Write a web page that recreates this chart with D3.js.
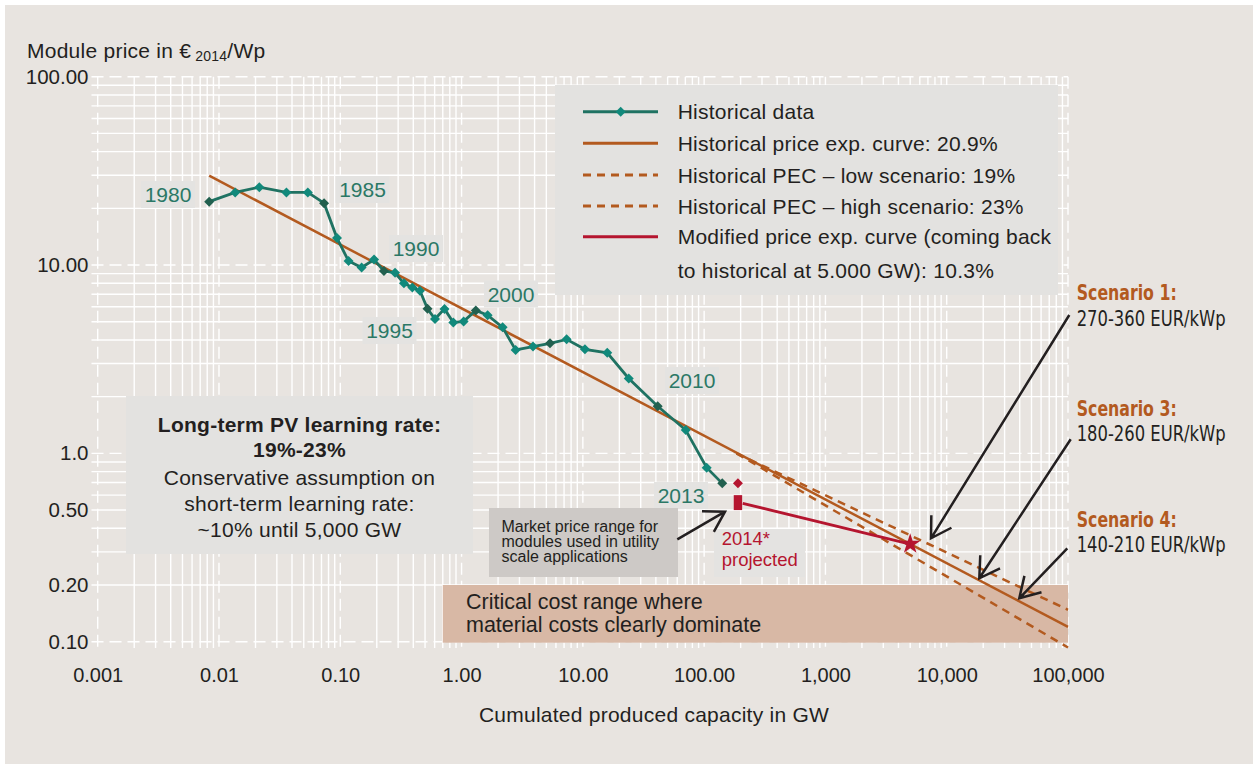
<!DOCTYPE html>
<html>
<head>
<meta charset="utf-8">
<script src="https://cdn.jsdelivr.net/npm/d3@7"></script>
<style>
  body { margin: 0; background: #fff; }
  svg text { font-family: "Liberation Sans", Arial, Helvetica, sans-serif; }
  .narrow { font-family: "Liberation Sans Narrow", "DejaVu Sans Condensed", "Liberation Sans", sans-serif !important; }
  .wide { letter-spacing: 0.25px; }
</style>
</head>
<body>
<div id="chart"></div>
<script>
// --- data ------------------------------------------------------------
const years = [1980, 1981, 1982, 1983, 1984, 1985, 1986, 1987, 1988, 1989,
               1990, 1991, 1992, 1993, 1994, 1995, 1996, 1997, 1998, 1999,
               2000, 2001, 2002, 2003, 2004, 2005, 2006, 2007, 2008, 2009,
               2010, 2011, 2012, 2013];
const capacityGW = [0.0083, 0.0136, 0.0215, 0.036, 0.054, 0.0735, 0.094, 0.117, 0.150, 0.190,
                    0.229, 0.283, 0.335, 0.393, 0.454, 0.524, 0.604, 0.723, 0.855, 1.04,
                    1.31, 1.64, 2.18, 2.79, 3.88, 5.36, 7.35, 10.4, 15.9, 23.9,
                    41.4, 70.5, 105, 141];
const priceEUR = [21.7, 24.3, 25.9, 24.3, 24.3, 21.3, 13.9, 10.5, 9.7, 10.7,
                  9.3, 9.1, 8.0, 7.6, 7.3, 5.86, 5.17, 5.85, 4.95, 5.02,
                  5.74, 5.42, 4.67, 3.54, 3.69, 3.84, 4.03, 3.57, 3.42, 2.50,
                  1.78, 1.33, 0.84, 0.693];
const markedYears = [1980, 1985, 1990, 1995, 2000, 2005, 2010, 2013];

// experience curves, end points [GW, EUR/Wp]
const historicalCurve = [[0.0083, 29.8], [100000, 0.1198]];
const lowScenario = [[185, 1.0], [100000, 0.1477]];
const highScenario = [[185, 1.0], [100000, 0.0932]];
const modifiedCurve = [[208, 0.543], [5000, 0.330]];

const point2014 = [190, 0.693];
const range2014 = [190, 0.50, 0.60];
const star5000 = [5000, 0.330];
const criticalRange = [0.7, 100000, 0.1, 0.2];

const xTicks = [0.001, 0.01, 0.1, 1, 10, 100, 1000, 10000, 100000];
const xTickLabels = ["0.001", "0.01", "0.10", "1.00", "10.00", "100.00", "1,000", "10,000", "100,000"];
const yTicks = [100, 10, 1, 0.5, 0.2, 0.1];
const yTickLabels = ["100.00", "10.00", "1.0", "0.50", "0.20", "0.10"];

const legendLabels = ["Historical data", "Historical price exp. curve: 20.9%",
  "Historical PEC \u2013 low scenario: 19%", "Historical PEC \u2013 high scenario: 23%",
  "Modified price exp. curve (coming back", "to historical at 5.000 GW): 10.3%"];
const yearLabels = ["1980", "1985", "1990", "1995", "2000", "2010", "2013"];
const scenarioTitles = ["Scenario 1:", "Scenario 3:", "Scenario 4:"];
const scenarioRanges = ["270-360 EUR/kWp", "180-260 EUR/kWp", "140-210 EUR/kWp"];

// --- setup -------------------------------------------------------------
const width = 1253, height = 764;
const teal = "#1f7262", tealLight = "#11897b", tealDark = "#22604f", tealText = "#2b7866";
const brown = "#b35a1f", red = "#b5152f", ink = "#231f20";

const svg = d3.select("#chart").append("svg")
  .attr("width", width).attr("height", height);

svg.append("rect").attr("x", 5).attr("y", 5).attr("width", width - 5).attr("height", height - 5)
  .attr("fill", "#e8e4e0");

const x = d3.scaleLog().domain([0.001, 100000]).range([97.7, 1068]);
const y = d3.scaleLog().domain([0.1, 100]).range([641.7, 76.7]);

// grid
const grid = svg.append("g");
const isMajor = v => Math.abs(Math.log10(v) - Math.round(Math.log10(v))) < 1e-6;
grid.selectAll(".vg").data(x.ticks()).join("line")
  .attr("x1", d => x(d)).attr("x2", d => x(d))
  .attr("y1", 76.7).attr("y2", 648)
  .attr("stroke", "#fff").attr("stroke-width", 1.4)
  .attr("stroke-dasharray", d => isMajor(d) ? "12,6" : null);
grid.selectAll(".hg").data(y.ticks()).join("line")
  .attr("y1", d => y(d)).attr("y2", d => y(d))
  .attr("x1", 91.5).attr("x2", 1068)
  .attr("stroke", "#fff").attr("stroke-width", 1.4)
  .attr("stroke-dasharray", d => isMajor(d) ? "12,6" : null);

// axes labels
const xAxis = svg.append("g").attr("transform", "translate(0,648)")
  .call(d3.axisBottom(x).tickValues(xTicks).tickSize(0).tickPadding(20)
    .tickFormat((d, i) => xTickLabels[i]));
xAxis.select(".domain").remove();
xAxis.selectAll("text").attr("font-size", 20).attr("fill", ink).attr("font-family", null);

const yAxis = svg.append("g").attr("transform", "translate(88.5,0)")
  .call(d3.axisLeft(y).tickValues(yTicks).tickSize(0).tickPadding(0)
    .tickFormat((d, i) => yTickLabels[i]));
yAxis.select(".domain").remove();
yAxis.selectAll("text").attr("font-size", 20.5).attr("fill", ink).attr("font-family", null);

svg.append("text").attr("class", "wide").attr("x", 654).attr("y", 722).attr("text-anchor", "middle")
  .attr("font-size", 21).attr("fill", ink).text("Cumulated produced capacity in GW");

const yTitle = svg.append("text").attr("class", "wide").attr("x", 27).attr("y", 58).attr("font-size", 21).attr("fill", ink);
yTitle.append("tspan").text("Module price in \u20ac");
yTitle.append("tspan").attr("dx", 4).attr("dy", 3).attr("font-size", 14).text("2014");
yTitle.append("tspan").attr("dy", -3).text("/Wp");

// critical cost range
svg.append("rect")
  .attr("x", x(criticalRange[0])).attr("width", x(criticalRange[1]) - x(criticalRange[0]))
  .attr("y", y(criticalRange[3])).attr("height", y(criticalRange[2]) - y(criticalRange[3]) + 1)
  .attr("fill", "#d8b8a5");
const crit = svg.append("text").attr("font-size", 21.5).attr("fill", ink);
crit.append("tspan").attr("x", 466).attr("y", 609).text("Critical cost range where");
crit.append("tspan").attr("x", 466).attr("y", 632).text("material costs clearly dominate");

// long-term box
svg.append("rect").attr("x", 126).attr("y", 396).attr("width", 347).attr("height", 158).attr("fill", "#e3e2e0");
const ltLines = [["Long-term PV learning rate:", 432, "bold"], ["19%-23%", 457, "bold"],
  ["Conservative assumption on", 485, "normal"], ["short-term learning rate:", 511, "normal"],
  ["~10% until 5,000 GW", 537, "normal"]];
const lt = svg.append("text").attr("class", "wide").attr("text-anchor", "middle")
  .attr("font-size", 21).attr("fill", ink);
lt.selectAll("tspan").data(ltLines).join("tspan")
  .attr("x", 299.5).attr("y", d => d[1]).attr("font-weight", d => d[2]).text(d => d[0]);

// legend
const lg = svg.append("g");
lg.append("rect").attr("x", 555).attr("y", 85).attr("width", 503).attr("height", 210).attr("fill", "#e3e2e0");
const rows = [111.7, 143.3, 175, 206, 236.7, 270];
const legStyles = [
  { c: teal, dash: null }, { c: brown, dash: null }, { c: brown, dash: "8,6" },
  { c: brown, dash: "8,6" }, { c: red, dash: null }];
legStyles.forEach((s, i) => {
  lg.append("line").attr("x1", 583).attr("x2", 658).attr("y1", rows[i]).attr("y2", rows[i])
    .attr("stroke", s.c).attr("stroke-width", 3).attr("stroke-dasharray", s.dash);
});
lg.append("path").attr("d", d3.symbol(d3.symbolSquare, 50)())
  .attr("transform", `translate(620.7,${rows[0]}) rotate(45)`).attr("fill", tealLight);
lg.selectAll(".lt").data(legendLabels).join("text")
  .attr("class", "wide")
  .attr("x", 677.7).attr("y", (d, i) => rows[i] + 7.5).attr("font-size", 21).attr("fill", ink).text(d => d);

// curves
const line = d3.line().x(d => x(d[0])).y(d => y(d[1]));
svg.append("path").datum(lowScenario).attr("d", line).attr("fill", "none")
  .attr("stroke", brown).attr("stroke-width", 2.5).attr("stroke-dasharray", "8,6");
svg.append("path").datum(highScenario).attr("d", line).attr("fill", "none")
  .attr("stroke", brown).attr("stroke-width", 2.5).attr("stroke-dasharray", "8,6");
svg.append("path").datum(historicalCurve).attr("d", line).attr("fill", "none")
  .attr("stroke", brown).attr("stroke-width", 2.5);

// historical data
const hist = years.map((yr, i) => ({ yr, cap: capacityGW[i], price: priceEUR[i] }));
svg.append("path").datum(hist).attr("fill", "none").attr("stroke", teal).attr("stroke-width", 2.8)
  .attr("d", d3.line().x(d => x(d.cap)).y(d => y(d.price)));
svg.selectAll(".pt").data(hist).join("path")
  .attr("d", d3.symbol(d3.symbolSquare, 50)())
  .attr("transform", d => `translate(${x(d.cap)},${y(d.price)}) rotate(45)`)
  .attr("fill", d => markedYears.includes(d.yr) ? tealDark : tealLight);

// 2014 and modified curve
svg.append("path").datum(modifiedCurve).attr("d", line).attr("fill", "none")
  .attr("stroke", red).attr("stroke-width", 2.8);
svg.append("rect").attr("x", x(range2014[0]) - 4.2).attr("width", 8.4)
  .attr("y", y(range2014[2])).attr("height", y(range2014[1]) - y(range2014[2])).attr("fill", red);
svg.append("path").attr("d", d3.symbol(d3.symbolSquare, 50)())
  .attr("transform", `translate(${x(point2014[0])},${y(point2014[1])}) rotate(45)`).attr("fill", red);
svg.append("path").attr("d", d3.symbol(d3.symbolStar, 130)())
  .attr("transform", `translate(${x(star5000[0])},${y(star5000[1])})`).attr("fill", red);

// year labels
const yearPos = [[168, 194.5], [362.5, 189.5], [416, 248.5], [389.5, 330.5], [511, 294], [692, 380.5], [681, 495.5]];
yearLabels.forEach((t, i) => {
  const [cx, cy] = yearPos[i];
  svg.append("rect").attr("x", cx - 27).attr("y", cy - 13.5).attr("width", 54).attr("height", 27).attr("fill", "#e4e3e1");
  svg.append("text").attr("x", cx).attr("y", cy + 7.5).attr("text-anchor", "middle")
    .attr("font-size", 21).attr("fill", tealText).text(t);
});

// 2014 projected label
svg.append("rect").attr("x", 714).attr("y", 529).attr("width", 91).attr("height", 48).attr("fill", "#e4e3e1");
svg.append("text").attr("x", 721.7).attr("y", 545).attr("font-size", 18.5).attr("fill", red).text("2014*");
svg.append("text").attr("x", 721.7).attr("y", 566).attr("font-size", 18.5).attr("fill", red).text("projected");

// market price box
svg.append("rect").attr("x", 489).attr("y", 508).attr("width", 189).attr("height", 69).attr("fill", "#cdc9c6");
const mk = svg.append("text").attr("font-size", 16).attr("fill", ink);
["Market price range for", "modules used in utility", "scale applications"].forEach((t, i) => {
  mk.append("tspan").attr("x", 501.5).attr("y", 531.5 + i * 15).text(t);
});

// arrows
function arrow(x1, y1, x2, y2) {
  const a = Math.atan2(y1 - y2, x1 - x2), L = 23, w = 0.54;
  const p = d3.path();
  p.moveTo(x1, y1); p.lineTo(x2, y2);
  p.moveTo(x2 + L * Math.cos(a + w), y2 + L * Math.sin(a + w));
  p.lineTo(x2, y2);
  p.lineTo(x2 + L * Math.cos(a - w), y2 + L * Math.sin(a - w));
  svg.append("path").attr("d", p.toString()).attr("fill", "none")
    .attr("stroke", ink).attr("stroke-width", 2.5);
}
arrow(677.3, 539.3, 725, 511.7);
arrow(1069.3, 315, 931, 538.3);
arrow(1070.7, 439.3, 979.3, 578.3);
arrow(1067.3, 548.3, 1019.3, 598.3);

// scenario labels (condensed bold face in the original)
const scenY = [300, 415.7, 526.7];
scenarioTitles.forEach((t, i) => {
  svg.append("text").attr("class", "narrow").attr("x", 1076.7).attr("y", scenY[i])
    .attr("font-size", 21).attr("font-weight", "bold").attr("fill", brown)
    .attr("textLength", 100).attr("lengthAdjust", "spacingAndGlyphs").text(t);
  svg.append("text").attr("class", "narrow").attr("x", 1076.7).attr("y", scenY[i] + 25.5)
    .attr("font-size", 21).attr("fill", ink)
    .attr("textLength", 149).attr("lengthAdjust", "spacingAndGlyphs").text(scenarioRanges[i]);
});
</script>
</body>
</html>
